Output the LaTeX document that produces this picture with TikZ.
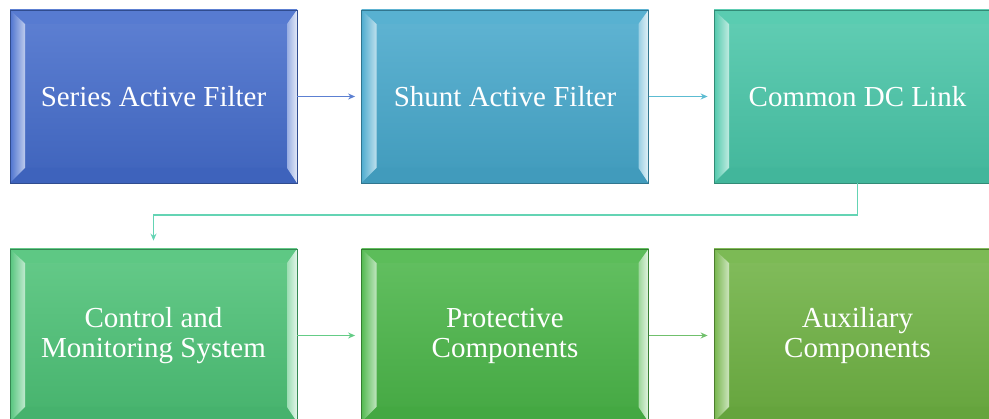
\documentclass[tikz,border=0pt]{standalone}
\usepackage{fontspec}
\setmainfont{Liberation Serif}
\usetikzlibrary{calc,arrows.meta}
\definecolor{cA}{RGB}{68,108,204}
\definecolor{cB}{RGB}{70,168,204}
\definecolor{cC}{RGB}{72,198,168}
\definecolor{cD}{RGB}{76,194,118}
\definecolor{cE}{RGB}{74,182,72}
\definecolor{cF}{RGB}{110,178,66}
\definecolor{aA}{RGB}{92,128,210}
\definecolor{aB}{RGB}{92,188,210}
\definecolor{aC}{RGB}{100,212,180}
\definecolor{aD}{RGB}{100,204,134}
\definecolor{aE}{RGB}{112,192,108}
\tikzset{
  bev/.style={rectangle, minimum width=287pt, minimum height=173pt, inner sep=0pt,
    draw=#1!70!black, line width=0.8pt, top color=#1!86!white, bottom color=#1!92!black,
    text=white, align=center, font=\fontsize{29}{30}\selectfont,
    path picture={
      \coordinate (pnw) at (path picture bounding box.north west);
      \coordinate (pne) at (path picture bounding box.north east);
      \coordinate (psw) at (path picture bounding box.south west);
      \coordinate (pse) at (path picture bounding box.south east);
      \fill[#1!90!white] (pnw) -- (pne) -- ($(pne)+(-10pt,-14pt)$) -- ($(pnw)+(15pt,-14pt)$) -- cycle;
      \fill[#1!92!black] (psw) -- (pse) -- ($(pse)+(-10pt,15pt)$) -- ($(psw)+(15pt,15pt)$) -- cycle;
      \shade[left color=#1!95!white, middle color=#1!85!white, right color=#1!35!white]
        (pnw) -- ($(pnw)+(15pt,-14pt)$) -- ($(psw)+(15pt,15pt)$) -- (psw) -- cycle;
      \shade[left color=#1!55!white, right color=#1!15!white]
        (pne) -- ($(pne)+(-10pt,-14pt)$) -- ($(pse)+(-10pt,15pt)$) -- (pse) -- cycle;
    }},
  conn/.style={line width=1.4pt, -{Stealth[length=7pt,width=6pt]}}
}
\begin{document}
\begin{tikzpicture}[x=1pt,y=1pt]
\useasboundingbox (0,0) rectangle (989,419);
\clip (0,0) rectangle (989,419);
\node[bev=cA] (n1) at (153.5,322.5) {Series Active Filter};
\node[bev=cB] (n2) at (505,322.5) {Shunt Active Filter};
\node[bev=cC] (n3) at (857.5,322.5) {Common DC Link};
\node[bev=cD] (n4) at (153.5,83.5) {\raisebox{-2pt}{\parbox{287pt}{\centering Control and\\Monitoring System}}};
\node[bev=cE] (n5) at (505,83.5) {\raisebox{-2pt}{\parbox{287pt}{\centering Protective\\Components}}};
\node[bev=cF] (n6) at (857.5,83.5) {\raisebox{-2pt}{\parbox{287pt}{\centering Auxiliary\\Components}}};
\coordinate (mid) at (153.5,204);
\draw[conn, aA, shorten >=6pt] (n1) -- (n2);
\draw[conn, aB, shorten >=6pt] (n2) -- (n3);
\draw[conn, aC, shorten >=8pt] (n3.south) |- (mid) -- (n4.north);
\draw[conn, aD, shorten >=6pt] (n4) -- (n5);
\draw[conn, aE, shorten >=6pt] (n5) -- (n6);
\end{tikzpicture}
\end{document}
